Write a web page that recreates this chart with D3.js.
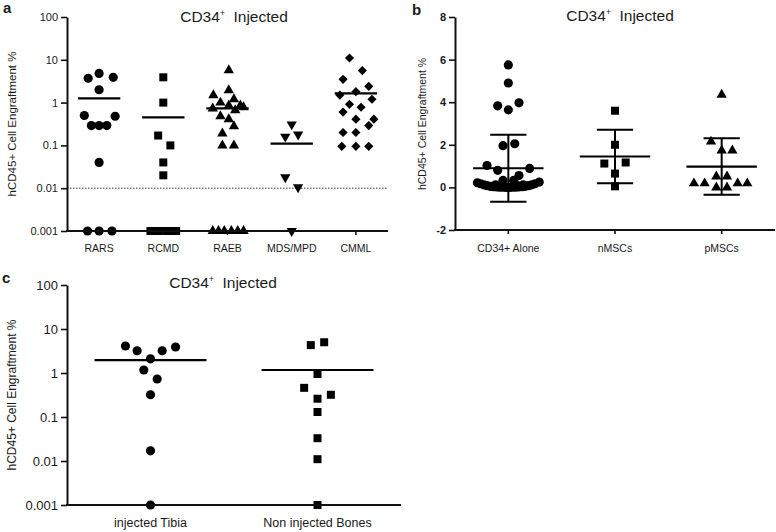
<!DOCTYPE html>
<html><head><meta charset="utf-8">
<script src="https://cdn.jsdelivr.net/npm/d3@7"></script>
<style>
body{margin:0;background:#fff}
svg{display:block}
text{font-family:"Liberation Sans",Arial,sans-serif;fill:#1a1a1a}
</style></head>
<body><svg id="chart" width="776" height="532"></svg>
<script>
// ---------- Panel a data ----------
const catsA = ["RARS", "RCMD", "RAEB", "MDS/MPD", "CMML"];
const rarsVals = [4.8, 3.9, 3.7, 2.0, 0.5, 0.48, 0.29, 0.29, 0.29, 0.04, 0.001, 0.001, 0.001];
const rarsJit  = [0, 0.22, -0.17, 0, -0.23, 0.25, -0.12, 0, 0.12, 0, -0.18, 0, 0.2];
const rcmdVals = [3.9, 1.0, 0.17, 0.1, 0.04, 0.02, 0.001, 0.001, 0.001, 0.001, 0.001];
const rcmdJit  = [0, 0, -0.08, 0.11, 0, 0, -0.2, -0.1, 0, 0.1, 0.2];
const raebVals = [5.7, 1.94, 1.48, 1.2, 1.0, 0.86, 0.86, 0.73, 0.78, 0.66, 0.48, 0.41, 0.28, 0.19, 0.1, 0.1, 0.001, 0.001, 0.001, 0.001, 0.001, 0.001];
const raebJit  = [0.02, 0.02, -0.22, 0.1, -0.11, 0.02, 0.2, -0.23, 0.25, 0.12, -0.11, 0.02, 0.1, -0.08, -0.08, 0.1, -0.23, -0.14, -0.05, 0.06, 0.16, 0.25];
const mdsVals  = [0.31, 0.16, 0.18, 0.018, 0.0105, 0.001];
const mdsJit   = [0, -0.1, 0.1, -0.1, 0.1, 0];
const cmmlVals = [11, 5.6, 3.5, 2.4, 1.8, 1.5, 1.2, 0.91, 0.78, 0.6, 0.41, 0.41, 0.29, 0.2, 0.2, 0.095, 0.095, 0.095];
const cmmlJit  = [-0.1, 0.1, -0.2, 0.2, 0, -0.25, 0.25, -0.1, 0.08, -0.2, 0, 0.28, 0.2, -0.2, 0, -0.22, 0, 0.2];
const meansA   = [1.25, 0.45, 0.73, 0.11, 1.64];
const logTicks = [0.001, 0.01, 0.1, 1, 10, 100];
const cutoffA  = 0.01;

// ---------- Panel b data ----------
const catsB = ["CD34+ Alone", "nMSCs", "pMSCs"];
const aloneVals = [5.75, 4.9, 3.83, 3.64, 3.97, 1.96, 2.05, 1.03, 0.8, 0.56, 0.89, 0.33, 0.33,
  0.22, 0.17, 0.12, 0.08, 0.05, 0.03, 0.02, 0.01, 0.01, 0.0, 0.0, 0.01, 0.01, 0.02, 0.03, 0.05, 0.08, 0.12, 0.17, 0.25,
  0.12, 0.1, 0.1, 0.12];
const aloneJit  = [0, 0, -0.1, 0, 0.1, -0.05, 0.06, -0.2, -0.1, 0.1, 0.2, -0.05, 0.05,
  -0.29, -0.26, -0.23, -0.2, -0.17, -0.14, -0.11, -0.08, -0.05, -0.02, 0.01, 0.04, 0.07, 0.1, 0.13, 0.16, 0.19, 0.22, 0.25, 0.29,
  -0.12, -0.06, 0.08, 0.14];
const nmscVals = [3.6, 2.0, 1.12, 1.17, 0.65, 0.05];
const nmscJit  = [0, 0, -0.1, 0.1, 0, 0];
const pmscVals = [4.35, 2.15, 1.73, 1.73, 0.51, 0.51, 0.19, 0.19, 0.0, 0.0, 0.19, 0.19];
const pmscJit  = [0, -0.1, 0, 0.1, -0.05, 0.05, -0.26, -0.16, -0.05, 0.05, 0.15, 0.24];
const meansB = [0.9, 1.45, 0.98];
const sdB    = [1.57, 1.26, 1.33];
const ticksB = [-2, 0, 2, 4, 6, 8];

// ---------- Panel c data ----------
const catsC = ["injected Tibia", "Non injected Bones"];
const tibiaVals = [4.1, 3.2, 2.1, 3.2, 3.9, 1.17, 0.73, 0.32, 0.017, 0.001];
const tibiaJit  = [-0.15, -0.08, 0, 0.07, 0.15, -0.04, 0.04, 0, 0, 0];
const boneVals  = [4.3, 5.0, 0.95, 0.46, 0.26, 0.32, 0.13, 0.033, 0.011, 0.001];
const boneJit   = [-0.04, 0.04, 0, -0.08, 0, 0.08, 0, 0, 0, 0];
const meansC = [1.97, 1.17];

const titleMain = "CD34";
const titleSup = "+";
const titleRest = "Injected";
const yTitle = "hCD45+  Cell Engraftment %";

const svg = d3.select("#chart");

const sym = {
  circle: d3.symbol().type(d3.symbolCircle).size(66),
  square: d3.symbol().type(d3.symbolSquare).size(64),
  tri: d3.symbol().type(d3.symbolTriangle).size(46),
  diamond: d3.symbol().type(d3.symbolSquare).size(42)
};
const rot = {circle: 0, square: 0, tri: 0, tridown: 180, diamond: 45};

function drawPoints(g, x, y, ci, vals, jit, kind) {
  const gen = kind === "tridown" ? sym.tri : sym[kind];
  g.selectAll(null).data(vals.map((v, i) => ({v, j: jit[i]}))).join("path")
    .attr("d", gen)
    .attr("fill", "#000")
    .attr("transform", d => `translate(${x(ci + d.j)},${y(d.v)}) rotate(${rot[kind]})`);
}

function title(g, cx, cy, fs) {
  const t = g.append("text").attr("x", cx).attr("y", cy).attr("text-anchor", "middle")
    .style("font-size", fs + "px");
  t.append("tspan").text(titleMain);
  t.append("tspan").attr("dy", -fs * 0.4).style("font-size", (fs * 0.55) + "px").text(titleSup);
  t.append("tspan").attr("dy", fs * 0.4).text("\u00a0\u00a0" + titleRest);
}

function yAxis(g, x0, y, ticks, fmt, fs, bold) {
  const ax = g.append("g").attr("transform", `translate(${x0},0)`)
    .call(d3.axisLeft(y).tickValues(ticks).tickFormat(fmt).tickSize(6).tickSizeOuter(0).tickPadding(3));
  ax.select(".domain").attr("stroke", "#111").attr("stroke-width", 2);
  ax.selectAll(".tick line").attr("stroke", "#111").attr("stroke-width", 1.6);
  ax.selectAll(".tick text").style("font-size", fs + "px").style("font-family", '"Liberation Sans",Arial,sans-serif')
    .style("font-weight", bold ? "bold" : "normal").attr("fill", "#1a1a1a");
}

function xAxis(g, x, yb, cats, fs, labelDy) {
  const [r0, r1] = x.range();
  g.append("line").attr("x1", r0 - 1).attr("x2", r1).attr("y1", yb).attr("y2", yb)
    .attr("stroke", "#111").attr("stroke-width", 2);
  cats.forEach((c, i) => {
    g.append("line").attr("x1", x(i)).attr("x2", x(i)).attr("y1", yb).attr("y2", yb + 4)
      .attr("stroke", "#111").attr("stroke-width", 1.6);
    g.append("text").attr("x", x(i)).attr("y", yb + labelDy).attr("text-anchor", "middle")
      .style("font-size", fs + "px").text(c);
  });
}

function yLabel(g, xPos, yMid, fs) {
  g.append("text").attr("transform", `translate(${xPos},${yMid}) rotate(-90)`)
    .attr("text-anchor", "middle").style("font-size", fs + "px").text(yTitle);
}

function panelLabel(g, x, y, t) {
  g.append("text").attr("x", x).attr("y", y).style("font-size", "15px").style("font-weight", "bold").text(t);
}

function meanLine(g, x, y, ci, m, hw) {
  g.append("line").attr("x1", x(ci - hw)).attr("x2", x(ci + hw)).attr("y1", y(m)).attr("y2", y(m))
    .attr("stroke", "#000").attr("stroke-width", 2.2);
}

// ---------------- Panel a ----------------
{
  const g = svg.append("g");
  const x = d3.scaleLinear().domain([-0.5, 4.5]).range([67, 388]);
  const y = d3.scaleLog().domain([0.001, 100]).range([231, 17]);
  g.append("line").attr("x1", 67).attr("x2", 388).attr("y1", y(cutoffA)).attr("y2", y(cutoffA))
    .attr("stroke", "#333").attr("stroke-width", 1).attr("stroke-dasharray", "1.5,1.5");
  const sets = [[rarsVals, rarsJit, "circle"], [rcmdVals, rcmdJit, "square"], [raebVals, raebJit, "tri"],
                [mdsVals, mdsJit, "tridown"], [cmmlVals, cmmlJit, "diamond"]];
  sets.forEach((s, i) => drawPoints(g, x, y, i, s[0], s[1], s[2]));
  meansA.forEach((m, i) => meanLine(g, x, y, i, m, 0.33));
  yAxis(g, 67, y, logTicks, d => String(d), 11, false);
  xAxis(g, x, 231, catsA, 10.5, 21);
  yLabel(g, 16, 124, 11.5);
  title(g, 234, 22, 15.5);
  panelLabel(g, 3, 13, "a");
}

// ---------------- Panel b ----------------
{
  const g = svg.append("g");
  const x = d3.scaleLinear().domain([-0.5, 2.5]).range([455, 775]);
  const y = d3.scaleLinear().domain([-2, 8]).range([230, 17]);
  const sets = [[aloneVals, aloneJit, "circle"], [nmscVals, nmscJit, "square"], [pmscVals, pmscJit, "tri"]];
  sets.forEach((s, i) => drawPoints(g, x, y, i, s[0], s[1], s[2]));
  meansB.forEach((m, i) => {
    meanLine(g, x, y, i, m, 0.33);
    const lo = m - sdB[i], hi = m + sdB[i];
    g.append("line").attr("x1", x(i)).attr("x2", x(i)).attr("y1", y(lo)).attr("y2", y(hi))
      .attr("stroke", "#000").attr("stroke-width", 2);
    [lo, hi].forEach(v => g.append("line").attr("x1", x(i - 0.17)).attr("x2", x(i + 0.17))
      .attr("y1", y(v)).attr("y2", y(v)).attr("stroke", "#000").attr("stroke-width", 2));
  });
  yAxis(g, 455, y, ticksB, d => String(d), 11, true);
  xAxis(g, x, 230, catsB, 10.5, 22);
  yLabel(g, 426, 124, 10.5);
  title(g, 620, 21, 15.5);
  panelLabel(g, 412, 15, "b");
}

// ---------------- Panel c ----------------
{
  const g = svg.append("g");
  const x = d3.scaleLinear().domain([-0.5, 1.5]).range([67, 401]);
  const y = d3.scaleLog().domain([0.001, 100]).range([505, 285]);
  drawPoints(g, x, y, 0, tibiaVals, tibiaJit, "circle");
  drawPoints(g, x, y, 1, boneVals, boneJit, "square");
  meansC.forEach((m, i) => meanLine(g, x, y, i, m, 0.335));
  yAxis(g, 67, y, logTicks, d => String(d), 13, false);
  xAxis(g, x, 505, catsC, 12.5, 22);
  yLabel(g, 16, 395, 12);
  title(g, 223, 288, 15.5);
  panelLabel(g, 2, 283, "c");
}
</script></body></html>
